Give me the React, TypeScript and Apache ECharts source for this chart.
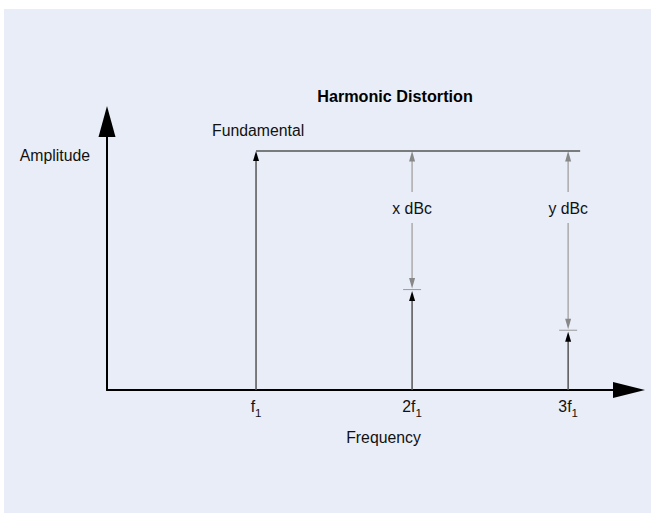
import React, { useEffect, useRef } from 'react';
import * as echarts from 'echarts';

const FONT = "'Liberation Sans', Arial, Helvetica, sans-serif";

// Data
const harmonicOrders = [1, 2, 3]; // f1, 2f1, 3f1 (multiples of the fundamental)
const amplitudes = [100, 42, 25]; // relative amplitude of each spectral line
const tickMain = ['f', '2f', '3f'];
const tickSub = ['1', '1', '1'];
const dbcLabels = ['', 'x dBc', 'y dBc'];
const titleText = 'Harmonic Distortion';
const xName = 'Frequency';
const yName = 'Amplitude';
const fundamentalLabel = 'Fundamental';

const TEXT = '#111';
const FS = 15.8;

export default function App() {
  const ref = useRef<HTMLDivElement>(null);
  useEffect(() => {
    if (!ref.current) return;
    const chart = echarts.init(ref.current, undefined, { renderer: 'svg' });

    const spectrumData = harmonicOrders.map((f, i) => [f, amplitudes[i]]);
    const dbcData = harmonicOrders.slice(1).map((f, i) => [f, amplitudes[i + 1], amplitudes[0]]);

    const option: any = {
      animation: false,
      backgroundColor: '#ffffff',
      title: {
        text: titleText,
        left: 395,
        top: 88,
        padding: 0,
        textAlign: 'center',
        textStyle: { fontFamily: FONT, fontSize: 16.2, fontWeight: 'bold', color: '#000' },
      },
      graphic: [
        {
          type: 'rect',
          z: -100,
          silent: true,
          shape: { x: 4, y: 9, width: 647, height: 504 },
          style: { fill: '#E9EDF8' },
        },
      ],
      grid: { left: 107, right: 26, top: 121.5, bottom: 127, outerBoundsMode: 'none' },
      xAxis: {
        type: 'value',
        min: 0.045,
        max: 3.39,
        name: xName,
        nameLocation: 'middle',
        nameGap: 39,
        nameTextStyle: { fontFamily: FONT, fontSize: FS, color: TEXT, padding: [0, 0, 0, 31] },
        axisLine: {
          show: true,
          onZero: false,
          symbol: ['none', 'triangle'],
          symbolSize: [16, 32],
          lineStyle: { color: '#000', width: 2 },
        },
        axisTick: { show: false },
        splitLine: { show: false },
        axisLabel: {
          customValues: harmonicOrders,
          margin: 7,
          formatter: (v: number) => {
            const i = harmonicOrders.indexOf(Math.round(v));
            return i < 0 ? '' : `{m|${tickMain[i]}}{s|${tickSub[i]}}`;
          },
          rich: {
            m: { fontFamily: FONT, fontSize: FS, color: TEXT, lineHeight: 18 },
            s: { fontFamily: FONT, fontSize: 11.5, color: TEXT, lineHeight: 12, padding: [14, 0, 0, 0] },
          },
        },
      },
      yAxis: {
        type: 'value',
        min: 0,
        max: 112.3,
        name: yName,
        nameLocation: 'end',
        nameGap: -33.5,
        nameRotate: 0,
        nameTextStyle: {
          fontFamily: FONT,
          fontSize: FS,
          color: TEXT,
          align: 'right',
          verticalAlign: 'middle',
          padding: [0, 17, 0, 0],
        },
        axisLine: {
          show: true,
          onZero: false,
          symbol: ['none', 'triangle'],
          symbolSize: [17, 31],
          lineStyle: { color: '#000', width: 2 },
        },
        axisTick: { show: false },
        axisLabel: { show: false },
        splitLine: { show: false },
      },
      series: [
        {
          type: 'custom',
          name: 'spectrum',
          data: spectrumData,
          z: 3,
          renderItem: (params: any, api: any) => {
            const x = api.value(0);
            const a = api.value(1);
            const base = api.coord([x, 0]);
            const top = api.coord([x, a]);
            const isFund = params.dataIndex === 0;
            const tipY = top[1] + (isFund ? 0 : 1.5);
            const children: any[] = [
              {
                type: 'line',
                shape: { x1: base[0], y1: base[1], x2: top[0], y2: tipY + 6 },
                style: { stroke: '#555', lineWidth: 1.5 },
              },
              {
                type: 'polygon',
                shape: { points: [[top[0], tipY], [top[0] - 3, tipY + 10], [top[0] + 3, tipY + 10]] },
                style: { fill: '#000' },
              },
            ];
            if (isFund) {
              const endX = api.coord([harmonicOrders[harmonicOrders.length - 1], a])[0] + 12;
              children.push({
                type: 'line',
                shape: { x1: top[0], y1: top[1], x2: endX, y2: top[1] },
                style: { stroke: '#555', lineWidth: 1.5 },
              });
              children.push({
                type: 'text',
                style: {
                  text: fundamentalLabel,
                  x: top[0] - 44,
                  y: top[1] - 20,
                  align: 'left',
                  verticalAlign: 'middle',
                  fontFamily: FONT,
                  fontSize: FS,
                  fill: TEXT,
                },
              });
            }
            return { type: 'group', children };
          },
        },
        {
          type: 'custom',
          name: 'dBc',
          data: dbcData,
          z: 2,
          encode: { x: 0, y: [1, 2] },
          renderItem: (params: any, api: any) => {
            const x = api.value(0);
            const amp = api.value(1);
            const fund = api.value(2);
            const top = api.coord([x, fund]);
            const bot = api.coord([x, amp]);
            const cx = top[0];
            const ly = top[1] + 58;
            const label = dbcLabels[params.dataIndex + 1];
            const lineStyle = { stroke: '#ABABAB', lineWidth: 1.5 };
            return {
              type: 'group',
              children: [
                { type: 'line', shape: { x1: cx, y1: top[1] + 9, x2: cx, y2: ly - 17 }, style: lineStyle },
                { type: 'line', shape: { x1: cx, y1: ly + 14, x2: cx, y2: bot[1] - 9 }, style: lineStyle },
                {
                  type: 'polygon',
                  shape: { points: [[cx, top[1]], [cx - 3, top[1] + 10.5], [cx + 3, top[1] + 10.5]] },
                  style: { fill: '#888' },
                },
                {
                  type: 'polygon',
                  shape: { points: [[cx, bot[1] - 1], [cx - 3, bot[1] - 11.5], [cx + 3, bot[1] - 11.5]] },
                  style: { fill: '#888' },
                },
                {
                  type: 'line',
                  shape: { x1: cx - 9, y1: bot[1], x2: cx + 9, y2: bot[1] },
                  style: { stroke: '#999', lineWidth: 1 },
                },
                {
                  type: 'text',
                  style: {
                    text: label,
                    x: cx,
                    y: ly,
                    align: 'center',
                    verticalAlign: 'middle',
                    fontFamily: FONT,
                    fontSize: FS,
                    fill: TEXT,
                  },
                },
              ],
            };
          },
        },
      ],
    };
    chart.setOption(option);
    return () => chart.dispose();
  }, []);

  return (
    <div
      ref={ref}
      style={{ position: 'fixed', left: 0, top: 0, width: 655, height: 517 }}
    />
  );
}
